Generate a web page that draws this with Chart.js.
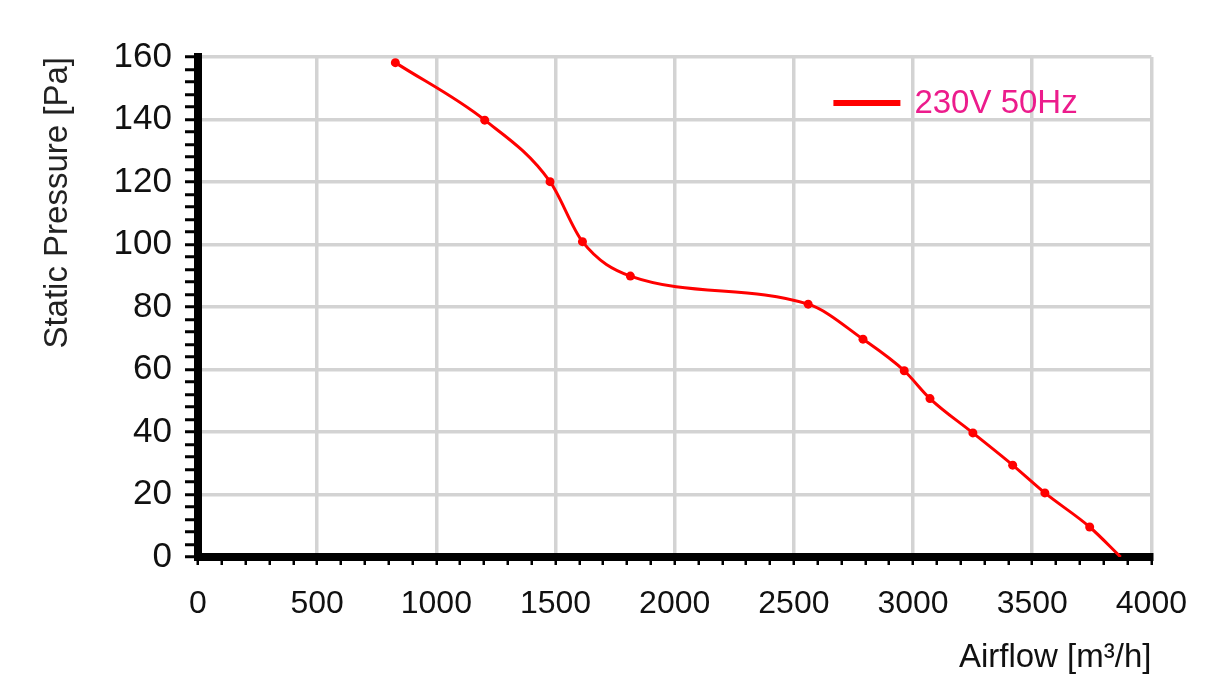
<!DOCTYPE html>
<html>
<head>
<meta charset="utf-8">
<title>Static Pressure vs Airflow</title>
<script src="https://cdn.jsdelivr.net/npm/chart.js@4.4.1/dist/chart.umd.min.js"></script>
<style>
    html, body { margin: 0; padding: 0; background: #fff; }
    #wrap { width: 1207px; height: 697px; }
</style>
</head>
<body>
<div id="wrap"><canvas id="grafico" width="1207" height="697"></canvas></div>
<script>
// curva 230V 50Hz
const airflow = [828, 1203, 1477, 1613, 1814, 2560, 2790, 2963, 3071, 3251, 3418, 3553, 3741, 3871];
const pressure = [158.2, 139.8, 120.1, 100.9, 89.9, 80.9, 69.7, 59.6, 50.7, 39.7, 29.4, 20.5, 9.6, 0];
const serieNome = '230V 50Hz';

const xTicks = [0, 500, 1000, 1500, 2000, 2500, 3000, 3500, 4000];
const yTicks = [0, 20, 40, 60, 80, 100, 120, 140, 160];

const fonte = "'Liberation Sans', Arial, sans-serif";

document.addEventListener('DOMContentLoaded', function () {

    const ctx = document.getElementById('grafico').getContext('2d');

    const pontos = airflow.map((x, i) => ({ x: x, y: pressure[i] }));

    // legenda desenhada dentro da area do grafico
    const legendaInterna = {
        id: 'legendaInterna',
        afterDraw(chart) {
            const area = chart.chartArea;
            const c = chart.ctx;
            const y = area.top + 46;
            c.save();
            c.fillStyle = '#ff0000';
            c.fillRect(area.right - 318, y - 3, 67, 6);
            c.fillStyle = '#ec1c8c';
            c.font = '33px ' + fonte;
            c.textBaseline = 'middle';
            c.textAlign = 'left';
            c.fillText(chart.data.datasets[0].label, area.right - 237, y + 1);
            c.restore();
        }
    };

    new Chart(ctx, {
        type: 'line',
        data: {
            datasets: [{
                label: serieNome,
                data: pontos,
                borderColor: '#ff0000',
                backgroundColor: '#ff0000',
                borderWidth: 3,
                pointRadius: c => c.dataIndex === airflow.length - 1 ? 0 : 4.5,
                pointHoverRadius: 5,
                pointBackgroundColor: '#ff0000',
                pointBorderWidth: 0,
                cubicInterpolationMode: 'monotone',
                fill: false
            }]
        },
        options: {
            responsive: false,
            animation: false,
            layout: {
                padding: { top: 57, right: 54, left: 0, bottom: 0 }
            },
            plugins: {
                legend: { display: false },
                tooltip: { enabled: false }
            },
            scales: {
                x: {
                    type: 'linear',
                    min: 0,
                    max: 4000,
                    afterFit: s => { s.height = 140; },
                    border: { color: '#000', width: 8 },
                    grid: {
                        color: c => xTicks.includes(c.tick.value) ? '#d3d3d3' : 'rgba(0,0,0,0)',
                        lineWidth: 3.5,
                        tickColor: '#000',
                        tickWidth: 2.5,
                        tickLength: 8
                    },
                    ticks: {
                        stepSize: 100,
                        autoSkip: false,
                        maxRotation: 0,
                        padding: 20,
                        color: '#111',
                        font: { family: fonte, size: 32 },
                        callback: v => xTicks.includes(v) ? v : ''
                    },
                    title: {
                        display: true,
                        text: 'Airflow [m³/h]',
                        align: 'end',
                        color: '#111',
                        font: { family: fonte, size: 33 },
                        padding: { top: 0, bottom: 19 }
                    }
                },
                y: {
                    type: 'linear',
                    min: 0,
                    max: 160,
                    afterFit: s => { s.width = 198; },
                    border: { color: '#000', width: 8 },
                    grid: {
                        color: c => yTicks.includes(c.tick.value) ? '#d3d3d3' : 'rgba(0,0,0,0)',
                        lineWidth: 3.5,
                        tickColor: '#000',
                        tickWidth: 3,
                        tickLength: 13
                    },
                    ticks: {
                        stepSize: 4,
                        autoSkip: false,
                        padding: 13,
                        color: '#111',
                        font: { family: fonte, size: 35 },
                        callback: v => yTicks.includes(v) ? v : ''
                    },
                    title: {
                        display: true,
                        text: 'Static Pressure [Pa]',
                        align: 'end',
                        color: '#222',
                        font: { family: fonte, size: 33 },
                        padding: { top: 38, bottom: 0 }
                    }
                }
            }
        },
        plugins: [legendaInterna]
    });

});
</script>
</body>
</html>
